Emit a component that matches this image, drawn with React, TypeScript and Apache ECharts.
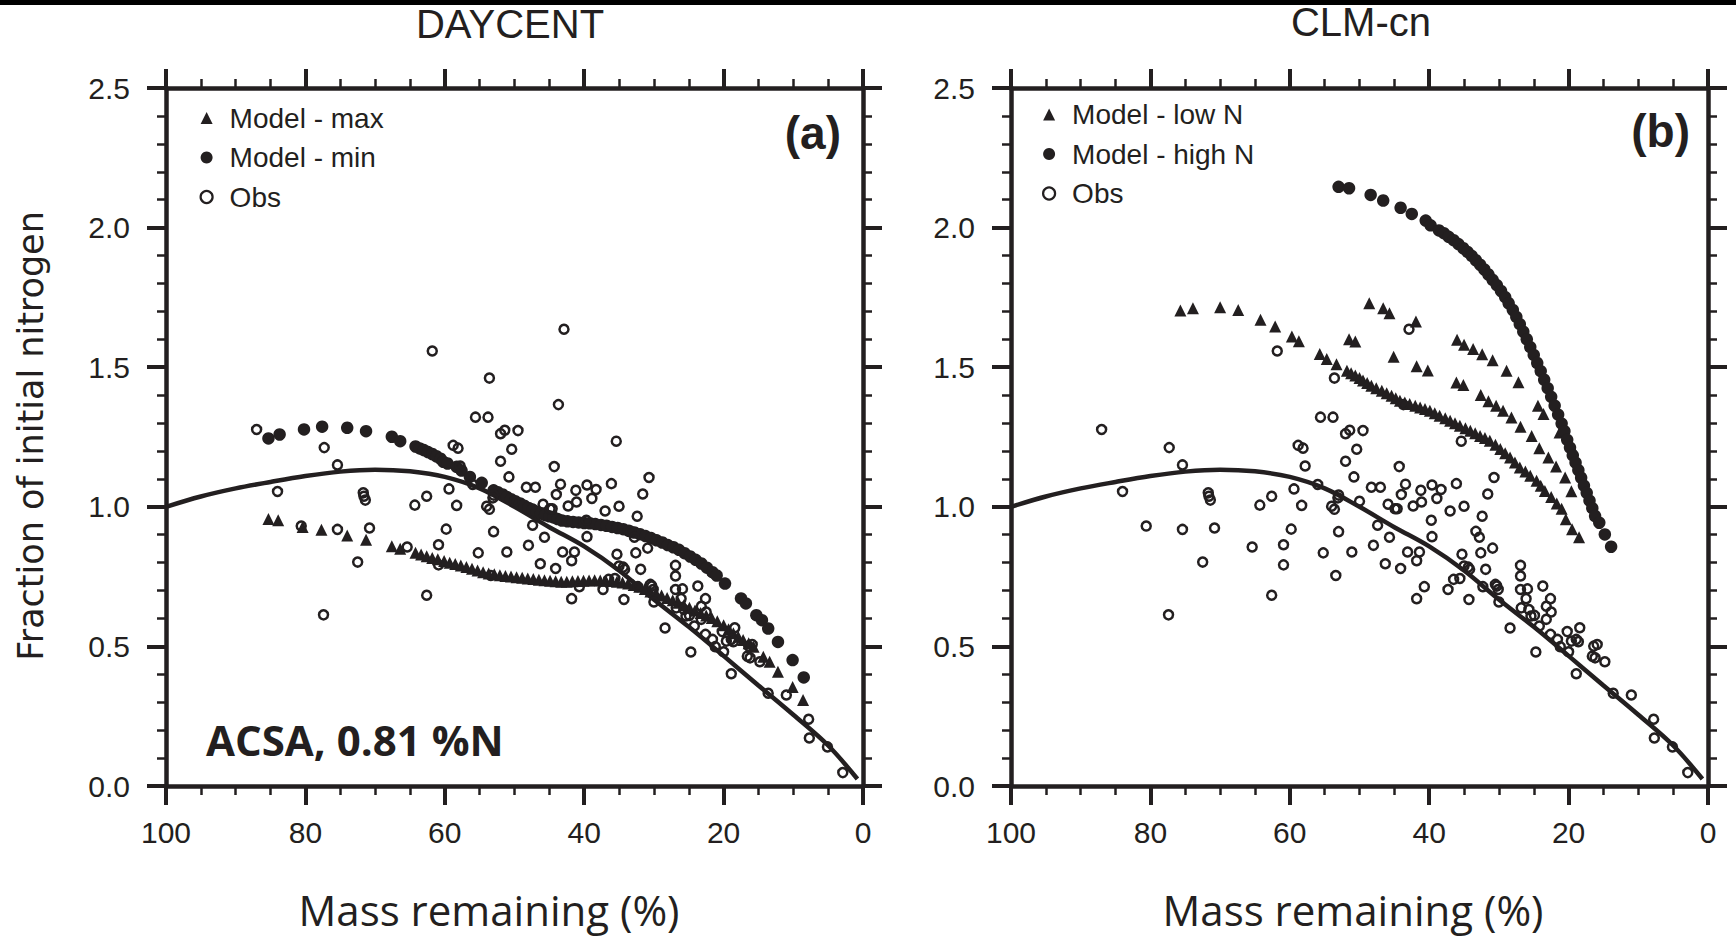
import React, { useEffect, useRef } from 'react';
import * as echarts from 'echarts';

const INK = '#231f20';
const SANS = "'Liberation Sans', Arial, Helvetica, sans-serif";

// Fitted curve (mass remaining %, fraction of initial N)
const fitMass = [100, 95, 90, 85, 80, 75, 70, 65, 60, 55, 50, 45, 40, 35, 30, 25, 20, 15, 10, 5, 0.8];
const fitN = [1.0, 1.037, 1.066, 1.089, 1.11, 1.126, 1.133, 1.127, 1.107, 1.066, 1.0, 0.927, 0.858, 0.772, 0.668, 0.57, 0.466, 0.36, 0.255, 0.145, 0.025];

// Observations (same in both panels)
const obsPoints: [number, number][] = [
  [87.0, 1.277], [84.0, 1.055], [80.6, 0.931], [77.3, 1.212], [77.4, 0.613], [75.4, 1.15], [75.4, 0.919],
  [72.5, 0.802], [71.7, 1.05], [71.6, 1.038], [71.4, 1.024], [70.8, 0.924], [65.4, 0.856], [64.3, 1.006],
  [62.6, 1.038], [62.6, 0.683], [61.8, 1.558], [60.9, 0.864], [60.9, 0.792], [59.8, 0.92], [59.4, 1.064],
  [58.8, 1.22], [58.1, 1.21], [58.3, 1.005], [57.8, 1.146], [56.0, 1.08], [55.6, 1.321], [55.2, 0.835],
  [54.0, 1.002], [53.6, 0.991], [53.8, 1.321], [53.6, 1.461], [53.4, 0.754], [53.0, 1.042], [53.1, 1.032],
  [53.0, 0.911], [52.0, 1.163], [52.0, 1.262], [51.4, 1.274], [51.1, 0.838], [50.8, 1.107], [50.4, 1.206],
  [50.0, 1.02], [49.5, 1.273], [48.3, 1.07], [48.0, 0.862], [47.4, 0.934], [47.0, 1.07], [46.3, 0.796],
  [45.9, 1.009], [44.9, 0.993], [44.6, 0.993], [45.7, 0.891], [44.3, 1.144], [44.1, 0.779], [44.0, 1.044],
  [43.7, 1.366], [43.4, 1.081], [43.1, 0.838], [42.9, 1.636], [42.3, 1.003], [41.8, 0.807], [41.8, 0.671],
  [41.4, 0.838], [41.2, 1.059], [41.1, 1.017], [40.7, 0.714], [39.7, 0.952], [39.6, 0.893], [39.6, 1.078],
  [38.9, 1.03], [38.3, 1.062], [37.3, 0.704], [37.0, 0.985], [36.5, 0.74], [36.1, 1.083], [35.6, 0.743],
  [35.4, 1.235], [35.3, 0.83], [35.0, 1.002], [35.0, 0.788], [34.4, 0.784], [34.3, 0.668], [34.2, 0.776],
  [33.3, 0.912], [32.8, 0.891], [32.6, 0.835], [32.4, 0.966], [32.3, 0.714], [31.9, 0.776], [31.6, 1.046],
  [30.9, 0.852], [30.7, 1.105], [30.5, 0.722], [30.3, 0.716], [30.1, 0.704], [30.0, 0.659], [28.4, 0.566],
  [26.9, 0.79], [26.9, 0.752], [26.9, 0.704], [26.8, 0.638], [26.1, 0.671], [25.9, 0.706], [25.7, 0.632],
  [25.4, 0.609], [24.9, 0.611], [24.7, 0.48], [24.2, 0.573], [23.7, 0.716], [23.2, 0.644], [23.2, 0.597],
  [22.6, 0.671], [22.5, 0.623], [22.6, 0.543], [21.6, 0.525], [21.2, 0.499], [20.2, 0.553], [20.0, 0.481],
  [19.6, 0.519], [18.9, 0.525], [18.6, 0.517], [18.4, 0.567], [18.9, 0.402], [16.6, 0.465], [16.2, 0.459],
  [16.4, 0.501], [15.9, 0.507], [14.8, 0.445], [13.6, 0.332], [11.0, 0.326], [7.8, 0.239], [7.7, 0.172],
  [5.1, 0.14], [2.9, 0.048],
];

// Panel (a) DAYCENT
const daycentMax: [number, number][] = [
  [85.3, 0.956], [83.9, 0.952], [80.4, 0.928], [77.7, 0.918], [74.0, 0.897], [71.3, 0.882], [67.6, 0.859],
  [66.4, 0.85], [64.2, 0.835], [63.4, 0.829], [62.6, 0.823], [61.8, 0.817], [61.0, 0.812], [60.1, 0.806],
  [59.3, 0.8], [58.5, 0.795], [57.7, 0.79], [56.9, 0.784], [56.1, 0.778], [55.3, 0.772], [54.5, 0.766],
  [53.7, 0.761], [52.9, 0.758], [52.1, 0.755], [51.3, 0.752], [50.5, 0.75], [49.7, 0.748], [48.9, 0.746],
  [48.1, 0.743], [47.3, 0.741], [46.5, 0.739], [45.7, 0.737], [44.9, 0.735], [44.1, 0.733], [43.3, 0.732],
  [42.5, 0.732], [41.7, 0.733], [40.9, 0.734], [40.1, 0.735], [39.3, 0.736], [38.5, 0.737], [37.7, 0.736],
  [36.9, 0.735], [36.1, 0.734], [35.3, 0.732], [34.5, 0.729], [33.7, 0.725], [32.9, 0.72], [32.1, 0.714],
  [31.3, 0.706], [30.5, 0.697], [29.7, 0.69], [28.9, 0.682], [28.1, 0.673], [27.3, 0.665], [26.5, 0.656],
  [25.7, 0.647], [24.9, 0.638], [24.1, 0.629], [23.3, 0.62], [22.5, 0.611], [21.7, 0.602], [20.9, 0.59],
  [20.0, 0.576], [19.3, 0.561], [18.6, 0.547], [17.9, 0.535], [17.2, 0.523], [16.4, 0.511], [15.7, 0.499],
  [14.3, 0.463], [13.4, 0.445], [12.2, 0.409], [10.1, 0.355], [8.6, 0.308],
];
const daycentMin: [number, number][] = [
  [85.3, 1.245], [83.7, 1.259], [80.2, 1.277], [77.6, 1.287], [74.0, 1.283], [71.3, 1.271], [67.6, 1.251],
  [66.4, 1.235], [64.2, 1.216], [63.6, 1.209], [63.0, 1.203], [62.4, 1.196], [61.8, 1.189], [61.2, 1.181],
  [60.6, 1.172], [60.2, 1.161], [59.6, 1.155], [58.3, 1.143], [57.6, 1.13], [56.4, 1.107], [54.7, 1.086],
  [53.0, 1.059], [52.4, 1.052], [51.7, 1.044], [51.1, 1.035], [50.5, 1.027], [49.9, 1.02], [49.2, 1.012],
  [48.6, 1.004], [48.0, 0.996], [47.4, 0.99], [46.8, 0.982], [46.2, 0.976], [45.6, 0.97], [45.0, 0.966],
  [44.4, 0.962], [43.8, 0.956], [43.2, 0.951], [42.4, 0.948], [41.6, 0.946], [40.8, 0.944], [40.0, 0.942],
  [39.2, 0.941], [38.4, 0.938], [37.6, 0.935], [36.8, 0.932], [36.0, 0.928], [35.2, 0.924], [34.4, 0.92],
  [33.6, 0.914], [32.8, 0.908], [32.0, 0.902], [31.2, 0.895], [30.4, 0.888], [29.6, 0.88], [28.8, 0.872],
  [28.0, 0.863], [27.2, 0.855], [26.4, 0.846], [25.6, 0.834], [24.8, 0.822], [24.0, 0.81], [23.2, 0.797],
  [22.4, 0.782], [21.6, 0.766], [21.0, 0.754], [19.8, 0.725], [17.5, 0.672], [16.8, 0.654], [15.3, 0.612],
  [14.5, 0.594], [13.6, 0.564], [12.2, 0.516], [10.1, 0.451], [8.5, 0.389],
];

// Panel (b) CLM-cn
const clmLowN: [number, number][] = [
  [75.7, 1.703], [73.9, 1.711], [70.0, 1.715], [67.4, 1.705], [64.2, 1.67], [62.1, 1.646], [59.7, 1.61],
  [58.7, 1.593], [55.7, 1.547], [54.7, 1.529], [53.3, 1.511], [51.8, 1.487], [51.2, 1.478], [50.6, 1.47],
  [50.0, 1.461], [49.5, 1.452], [48.9, 1.443], [48.3, 1.434], [47.6, 1.425], [46.8, 1.416], [46.1, 1.407],
  [45.4, 1.398], [44.8, 1.389], [44.2, 1.38], [43.5, 1.374], [42.8, 1.368], [42.0, 1.362], [41.3, 1.356],
  [40.6, 1.35], [39.9, 1.344], [39.2, 1.335], [38.5, 1.326], [37.7, 1.317], [37.0, 1.308], [36.3, 1.299],
  [35.6, 1.29], [34.8, 1.281], [34.1, 1.272], [33.4, 1.263], [32.7, 1.254], [32.0, 1.246], [31.3, 1.237],
  [30.5, 1.222], [29.8, 1.207], [29.1, 1.192], [28.4, 1.177], [27.7, 1.159], [27.0, 1.141], [26.2, 1.126],
  [25.5, 1.111], [24.6, 1.093], [24.0, 1.075], [23.4, 1.057], [22.5, 1.035], [21.7, 1.012], [21.0, 0.993],
  [20.4, 0.955], [19.5, 0.92], [18.5, 0.891],
  [48.6, 1.729], [46.6, 1.711], [45.7, 1.693], [41.9, 1.664],
  [51.5, 1.6], [50.6, 1.592], [45.1, 1.537], [41.8, 1.503], [40.2, 1.488],
  [36.1, 1.445], [35.1, 1.436], [32.6, 1.4], [31.5, 1.378], [30.4, 1.362], [29.4, 1.344], [28.2, 1.32],
  [26.9, 1.287], [25.3, 1.254], [24.2, 1.21], [22.9, 1.177], [21.8, 1.144], [20.5, 1.105], [19.6, 1.056],
  [36.0, 1.598], [35.0, 1.58], [33.7, 1.565], [32.4, 1.546], [30.9, 1.525], [28.9, 1.487], [27.2, 1.446],
  [24.4, 1.362], [23.6, 1.332], [21.3, 1.266], [19.4, 1.207],
];
const clmHighN: [number, number][] = [
  [53.0, 2.146], [51.5, 2.141], [48.4, 2.117], [46.6, 2.097], [44.1, 2.071], [42.5, 2.049], [40.5, 2.025],
  [39.8, 2.008], [38.6, 1.99], [37.9, 1.98], [37.2, 1.967], [36.5, 1.955], [35.8, 1.941], [35.1, 1.926],
  [34.5, 1.913], [33.9, 1.899], [33.3, 1.883], [32.7, 1.867], [32.1, 1.85], [31.5, 1.832], [30.9, 1.813],
  [30.3, 1.794], [29.7, 1.773], [29.1, 1.751], [28.6, 1.729], [28.0, 1.705], [27.5, 1.68], [27.0, 1.654],
  [26.5, 1.627], [26.0, 1.6], [25.5, 1.572], [25.0, 1.544], [24.5, 1.515], [24.0, 1.486], [23.5, 1.455],
  [23.0, 1.425], [22.5, 1.394], [22.0, 1.362], [21.5, 1.33], [21.0, 1.298], [20.6, 1.271], [20.2, 1.24],
  [19.8, 1.212], [19.4, 1.184], [19.0, 1.158], [18.6, 1.131], [18.2, 1.104], [17.8, 1.076], [17.4, 1.05],
  [17.0, 1.022], [16.6, 0.995], [16.2, 0.967], [15.6, 0.943], [14.8, 0.901], [13.9, 0.857],
];

const panelTitles = ['DAYCENT', 'CLM-cn'];
const panelTags = ['(a)', '(b)'];
const legendA = ['Model - max', 'Model - min', 'Obs'];
const legendB = ['Model - low N', 'Model - high N', 'Obs'];
const xTitle = 'Mass remaining (%)';
const yTitle = 'Fraction of initial nitrogen';
const note = 'ACSA, 0.81 %N';

const GRIDS = [
  { left: 166, top: 88, width: 697, height: 698 },
  { left: 1011, top: 88, width: 697, height: 698 },
];

function xAxisFor(gridIndex: number, position: 'bottom' | 'top') {
  return {
    type: 'value', gridIndex, position, min: 0, max: 100, interval: 20, inverse: true,
    axisLine: { show: true, onZero: false, lineStyle: { color: INK, width: 4.5 } },
    axisTick: { show: true, inside: false, length: 19, lineStyle: { color: INK, width: 4 } },
    minorTick: { show: true, splitNumber: 4, length: 9, lineStyle: { color: INK, width: 2.5 } },
    splitLine: { show: false },
    minorSplitLine: { show: false },
    axisLabel: {
      show: position === 'bottom', margin: 31, fontSize: 30, color: INK, fontFamily: SANS,
      formatter: (v: number) => String(v),
    },
  };
}
function yAxisFor(gridIndex: number, position: 'left' | 'right') {
  return {
    type: 'value', gridIndex, position, min: 0, max: 2.5, interval: 0.5,
    axisLine: { show: true, onZero: false, lineStyle: { color: INK, width: 4.5 } },
    axisTick: { show: true, inside: false, length: 19, lineStyle: { color: INK, width: 4 } },
    minorTick: { show: true, splitNumber: 5, length: 9, lineStyle: { color: INK, width: 2.5 } },
    splitLine: { show: false },
    minorSplitLine: { show: false },
    axisLabel: {
      show: position === 'left', margin: 36, fontSize: 30, color: INK, fontFamily: SANS,
      formatter: (v: number) => v.toFixed(1),
    },
  };
}

const fitData = fitMass.map((m, i) => [m, fitN[i]]);

function panelSeries(p: number, names: string[], tri: [number, number][], dots: [number, number][]) {
  const xi = p * 2;
  const yi = p * 2;
  return [
    {
      name: 'Fit', type: 'line', xAxisIndex: xi, yAxisIndex: yi, data: fitData, smooth: 0.35,
      symbol: 'none', lineStyle: { color: INK, width: 4.5 }, z: 2, silent: true,
    },
    {
      name: names[0], type: 'scatter', xAxisIndex: xi, yAxisIndex: yi, data: tri,
      symbol: 'triangle', symbolSize: 12, itemStyle: { color: INK, opacity: 1 }, z: 3,
    },
    {
      name: names[1], type: 'scatter', xAxisIndex: xi, yAxisIndex: yi, data: dots,
      symbol: 'circle', symbolSize: 12.5, itemStyle: { color: INK, opacity: 1 }, z: 3,
    },
    {
      name: names[2], type: 'scatter', xAxisIndex: xi, yAxisIndex: yi, data: obsPoints,
      symbol: 'circle', symbolSize: 9,
      itemStyle: { color: 'rgba(255,255,255,0)', borderColor: INK, borderWidth: 2.5, opacity: 1 }, z: 4,
    },
  ];
}

function legendFor(left: number, top: number, names: string[]) {
  return {
    orient: 'vertical', left, top, itemWidth: 12, itemHeight: 12, itemGap: 11.5,
    selectedMode: false,
    data: [
      { name: names[0], icon: 'triangle', itemStyle: { color: INK, opacity: 1 } },
      { name: names[1], icon: 'circle', itemStyle: { color: INK, opacity: 1 } },
      { name: names[2], icon: 'circle', itemStyle: { color: 'rgba(255,255,255,0)', borderColor: INK, borderWidth: 2.2, opacity: 1 } },
    ],
    textStyle: { fontSize: 28, color: INK, fontFamily: SANS, padding: [0, 0, 0, 12] },
  };
}

export default function App() {
  const ref = useRef<HTMLDivElement>(null);
  useEffect(() => {
    document.body.style.margin = '0';
    if (!ref.current) return;
    const chart = echarts.init(ref.current, undefined, { renderer: 'svg' });
    const option = {
      animation: false,
      backgroundColor: '#ffffff',
      grid: GRIDS,
      xAxis: [xAxisFor(0, 'bottom'), xAxisFor(0, 'top'), xAxisFor(1, 'bottom'), xAxisFor(1, 'top')],
      yAxis: [yAxisFor(0, 'left'), yAxisFor(0, 'right'), yAxisFor(1, 'left'), yAxisFor(1, 'right')],
      legend: [legendFor(194.5, 99, legendA), legendFor(1037, 95.5, legendB)],
      series: [
        ...panelSeries(0, legendA, daycentMax, daycentMin),
        ...panelSeries(1, legendB, clmLowN, clmHighN),
      ],
      graphic: [
        { type: 'rect', shape: { x: 0, y: 0, width: 1736, height: 5 }, style: { fill: '#000' } },
        { type: 'text', x: 510, y: 24, style: { text: panelTitles[0], font: `40px ${SANS}`, fill: INK, align: 'center', verticalAlign: 'middle' } },
        { type: 'text', x: 1361, y: 22, style: { text: panelTitles[1], font: `40px ${SANS}`, fill: INK, align: 'center', verticalAlign: 'middle' } },
        { type: 'text', x: 841, y: 133, style: { text: panelTags[0], font: `bold 46px ${SANS}`, fill: INK, align: 'right', verticalAlign: 'middle' } },
        { type: 'text', x: 1690, y: 131, style: { text: panelTags[1], font: `bold 46px ${SANS}`, fill: INK, align: 'right', verticalAlign: 'middle' } },
        { type: 'text', x: 206, y: 739, style: { text: note, font: `bold 42px 'Open Sans', sans-serif`, fill: INK, align: 'left', verticalAlign: 'middle' } },
        { type: 'text', x: 31, y: 436, rotation: Math.PI / 2, style: { text: yTitle, font: `35px 'DejaVu Sans', sans-serif`, fill: INK, align: 'center', verticalAlign: 'middle' } },
        { type: 'text', x: 489, y: 909, style: { text: xTitle, font: `42px 'Open Sans', sans-serif`, fill: INK, align: 'center', verticalAlign: 'middle' } },
        { type: 'text', x: 1353, y: 909, style: { text: xTitle, font: `42px 'Open Sans', sans-serif`, fill: INK, align: 'center', verticalAlign: 'middle' } },
      ],
    };
    chart.setOption(option as any);
    return () => chart.dispose();
  }, []);
  return <div ref={ref} style={{ position: 'absolute', left: 0, top: 0, width: 1736, height: 939 }} />;
}
